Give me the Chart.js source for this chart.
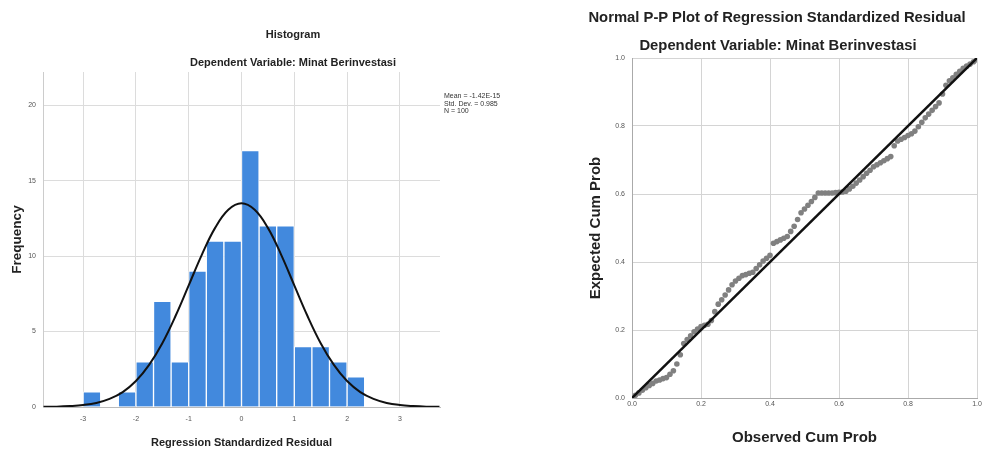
<!DOCTYPE html>
<html>
<head>
<meta charset="utf-8">
<script src="https://cdn.jsdelivr.net/npm/chart.js@4/dist/chart.umd.min.js"></script>
<style>
  html, body { margin: 0; padding: 0; background: #fff; }
  body { width: 988px; height: 454px; position: relative; overflow: hidden;
         font-family: "Liberation Sans", Arial, sans-serif; color: #222; }
  .t { position: absolute; font-weight: bold; white-space: nowrap; transform: translate(-50%, -50%); }
  #histWrap { position: absolute; left: 0; top: 0; width: 520px; height: 454px; }
  #ppWrap { position: absolute; left: 540px; top: 0; width: 448px; height: 454px; }
  #stats { position: absolute; left: 444px; top: 92px; font-size: 7px; line-height: 7.5px; color: #333; }
</style>
</head>
<body>
<div id="histWrap"><canvas id="hist" width="520" height="454"></canvas></div>
<div id="ppWrap"><canvas id="pp" width="448" height="454"></canvas></div>

<div class="t" style="left:293px;top:34px;font-size:11px;">Histogram</div>
<div class="t" style="left:293px;top:62px;font-size:11px;">Dependent Variable: Minat Berinvestasi</div>
<div id="stats">Mean = -1.42E-15<br>Std. Dev. = 0.985<br>N = 100</div>

<div class="t" style="left:777px;top:17px;font-size:14.8px;">Normal P-P Plot of Regression Standardized Residual</div>
<div class="t" style="left:778px;top:45px;font-size:14.8px;">Dependent Variable: Minat Berinvestasi</div>

<script>
// histogram: bins of 1/3 unit, centres and counts
const binCenters = [-2.8333, -2.5, -2.1667, -1.8333, -1.5, -1.1667, -0.8333, -0.5,
                    -0.1667, 0.1667, 0.5, 0.8333, 1.1667, 1.5, 1.8333, 2.1667];
const binCounts  = [1, 0, 1, 3, 7, 3, 9, 11, 11, 17, 12, 12, 4, 4, 3, 2];

// normal curve as traced on the picture
const curveX = [-3.75, -3.5, -3.25, -3, -2.75, -2.5, -2.25, -2, -1.75, -1.5, -1.25, -1, -0.75, -0.5, -0.25,
                0, 0.25, 0.5, 0.75, 1, 1.25, 1.5, 1.75, 2, 2.25, 2.5, 2.75, 3, 3.25, 3.5, 3.75];
const curveY = [0.01, 0.02, 0.06, 0.13, 0.27, 0.54, 0.99, 1.72, 2.79, 4.23, 6.03, 8.06, 10.1, 11.87, 13.07,
                13.5, 13.07, 11.87, 10.1, 8.06, 6.03, 4.23, 2.79, 1.72, 0.99, 0.54, 0.27, 0.13, 0.06, 0.02, 0.01];

const histXTicks = [-3, -2, -1, 0, 1, 2, 3];
const histYTicks = [0, 5, 10, 15, 20];

// P-P plot points
const ppObserved = [
  0.01, 0.02, 0.03, 0.04, 0.05, 0.06, 0.07, 0.08, 0.09, 0.10,
  0.11, 0.12, 0.13, 0.14, 0.15, 0.16, 0.17, 0.18, 0.19, 0.20,
  0.21, 0.22, 0.23, 0.24, 0.25, 0.26, 0.27, 0.28, 0.29, 0.30,
  0.31, 0.32, 0.33, 0.34, 0.35, 0.36, 0.37, 0.38, 0.39, 0.40,
  0.41, 0.42, 0.43, 0.44, 0.45, 0.46, 0.47, 0.48, 0.49, 0.50,
  0.51, 0.52, 0.53, 0.54, 0.55, 0.56, 0.57, 0.58, 0.59, 0.60,
  0.61, 0.62, 0.63, 0.64, 0.65, 0.66, 0.67, 0.68, 0.69, 0.70,
  0.71, 0.72, 0.73, 0.74, 0.75, 0.76, 0.77, 0.78, 0.79, 0.80,
  0.81, 0.82, 0.83, 0.84, 0.85, 0.86, 0.87, 0.88, 0.89, 0.90,
  0.91, 0.92, 0.93, 0.94, 0.95, 0.96, 0.97, 0.98, 0.99, 1.00];
const ppExpected = [
  0.008, 0.015, 0.023, 0.030, 0.037, 0.043, 0.050, 0.053, 0.057, 0.060,
  0.070, 0.080, 0.100, 0.127, 0.160, 0.172, 0.183, 0.195, 0.203, 0.210,
  0.214, 0.217, 0.228, 0.254, 0.276, 0.289, 0.303, 0.318, 0.333, 0.344,
  0.352, 0.360, 0.363, 0.367, 0.370, 0.381, 0.392, 0.403, 0.411, 0.420,
  0.455, 0.460, 0.465, 0.470, 0.475, 0.490, 0.505, 0.525, 0.545, 0.556,
  0.567, 0.578, 0.590, 0.603, 0.603, 0.603, 0.603, 0.603, 0.604, 0.605,
  0.606, 0.608, 0.615, 0.623, 0.632, 0.641, 0.651, 0.661, 0.670, 0.680,
  0.686, 0.692, 0.698, 0.704, 0.710, 0.742, 0.756, 0.761, 0.766, 0.772,
  0.777, 0.785, 0.798, 0.811, 0.824, 0.835, 0.846, 0.857, 0.868, 0.894,
  0.920, 0.933, 0.942, 0.952, 0.961, 0.970, 0.976, 0.982, 0.989, 0.995];
const refLineX = [0, 1];
const refLineY = [0, 1];
const ppTicks = [0, 0.2, 0.4, 0.6, 0.8, 1.0];

const tickFont = { family: "Liberation Sans", size: 7 };
const setTicks = (vals) => (axis) => { axis.ticks = vals.map((v) => ({ value: v })); };

new Chart(document.getElementById("hist"), {
  type: "bar",
  data: {
    datasets: [
      {
        type: "line",
        data: curveX.map((x, i) => ({ x, y: curveY[i] })),
        borderColor: "#111",
        borderWidth: 2,
        pointRadius: 0,
        tension: 0.4,
        fill: false,
      },
      {
        type: "bar",
        data: binCenters.map((x, i) => ({ x, y: binCounts[i] })),
        backgroundColor: "#4289dd",
        borderColor: "rgba(255,255,255,0.85)",
        borderWidth: 1,
        borderSkipped: "bottom",
        barPercentage: 1,
        categoryPercentage: 1,
      },
    ],
  },
  options: {
    responsive: false,
    animation: false,
    devicePixelRatio: 1,
    layout: { padding: { left: 0, top: 72, right: 80, bottom: 0 } },
    plugins: { legend: { display: false }, tooltip: { enabled: false } },
    scales: {
      x: {
        type: "linear", min: -3.76, max: 3.76, offset: false,
        afterBuildTicks: setTicks(histXTicks),
        afterFit: (s) => { s.height = 47; },
        grid: { color: "#dcdcdc", drawTicks: false, offset: false },
        border: { color: "#bbb" },
        ticks: { font: tickFont, color: "#555", padding: 8 },
        title: { display: true, text: "Regression Standardized Residual",
                 font: { family: "Liberation Sans", size: 11, weight: "bold" }, color: "#222",
                 padding: { top: 0, bottom: 4 } },
      },
      y: {
        min: 0, max: 22.2,
        afterBuildTicks: setTicks(histYTicks),
        afterFit: (s) => { s.width = 43; },
        grid: { color: "#dcdcdc", drawTicks: false },
        border: { color: "#ccc" },
        ticks: { font: tickFont, color: "#555", padding: 7 },
        title: { display: true, text: "Frequency",
                 font: { family: "Liberation Sans", size: 13.5, weight: "bold" }, color: "#222",
                 padding: { top: 9, bottom: 0 } },
      },
    },
  },
});

new Chart(document.getElementById("pp"), {
  type: "scatter",
  data: {
    datasets: [
      {
        type: "line",
        data: refLineX.map((x, i) => ({ x, y: refLineY[i] })),
        borderColor: "#111",
        borderWidth: 2.5,
        pointRadius: 0,
        fill: false,
      },
      {
        data: ppObserved.map((x, i) => ({ x, y: ppExpected[i] })),
        backgroundColor: "#808080",
        borderWidth: 0,
        pointRadius: 2.8,
      },
    ],
  },
  options: {
    responsive: false,
    animation: false,
    devicePixelRatio: 1,
    layout: { padding: { left: 0, top: 58, right: 11, bottom: 0 } },
    plugins: { legend: { display: false }, tooltip: { enabled: false } },
    scales: {
      x: {
        type: "linear", min: 0, max: 1,
        afterBuildTicks: setTicks(ppTicks),
        afterFit: (s) => { s.height = 56; },
        grid: { color: "#d4d4d4", drawTicks: false },
        border: { color: "#aaa" },
        ticks: { font: tickFont, color: "#555", padding: 2, callback: (v) => v.toFixed(1) },
        title: { display: true, text: "Observed Cum Prob",
                 font: { family: "Liberation Sans", size: 15, weight: "bold" }, color: "#222",
                 padding: { top: 0, bottom: 7 } },
      },
      y: {
        type: "linear", min: 0, max: 1,
        afterBuildTicks: setTicks(ppTicks),
        afterFit: (s) => { s.width = 92; },
        grid: { color: "#d4d4d4", drawTicks: false },
        border: { color: "#aaa" },
        ticks: { font: tickFont, color: "#555", padding: 7, callback: (v) => v.toFixed(1) },
        title: { display: true, text: "Expected Cum Prob",
                 font: { family: "Liberation Sans", size: 15, weight: "bold" }, color: "#222",
                 padding: { top: 47, bottom: 0 } },
      },
    },
  },
});
</script>
</body>
</html>
